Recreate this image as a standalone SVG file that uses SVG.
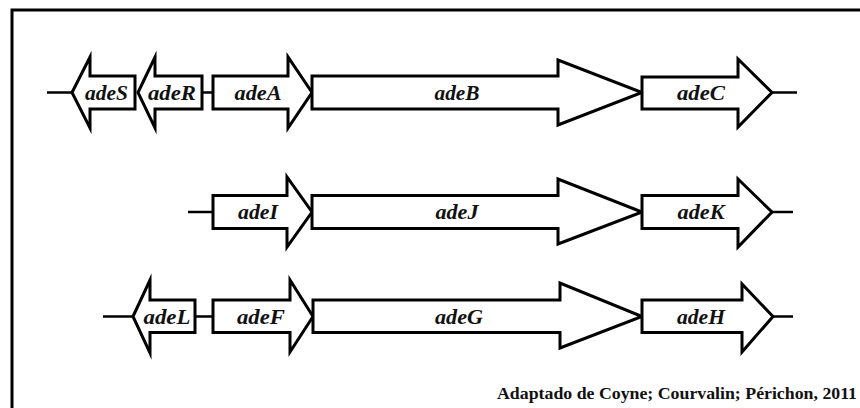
<svg xmlns="http://www.w3.org/2000/svg" width="860" height="408" viewBox="0 0 860 408">
<style>
.g{fill:#fff;stroke:#000;stroke-width:3;stroke-linejoin:miter;stroke-miterlimit:10}
.l{stroke:#000;stroke-width:2.5;fill:none}
.t{font-family:"Liberation Serif","Times New Roman",serif;font-weight:bold;font-style:italic;font-size:20px;text-anchor:middle;fill:#111}
.c{font-family:"Liberation Serif","Times New Roman",serif;font-weight:bold;font-size:17px;fill:#111}
</style>
<rect x="0" y="0" width="860" height="408" fill="#fff"/>
<rect x="12" y="10" width="870" height="420" fill="none" stroke="#000" stroke-width="3"/>
<g id="connectors">
<line class="l" x1="47" y1="92.5" x2="72" y2="92.5"/>
<line class="l" x1="202" y1="92.5" x2="213" y2="92.5"/>
<line class="l" x1="772" y1="92.5" x2="797" y2="92.5"/>
<line class="l" x1="188" y1="212" x2="213" y2="212"/>
<line class="l" x1="772" y1="212" x2="793" y2="212"/>
<line class="l" x1="103" y1="316.5" x2="133" y2="316.5"/>
<line class="l" x1="195" y1="316.5" x2="213" y2="316.5"/>
<line class="l" x1="773" y1="316.5" x2="793" y2="316.5"/>
</g>
<g id="adeS"><polygon class="g" points="72,92.5 90,57 90,76 135,76 135,109 90,109 90,128"/><text class="t" x="106.5" y="99.5" textLength="43" lengthAdjust="spacingAndGlyphs">adeS</text></g>
<g id="adeR"><polygon class="g" points="138,92.5 155,57 155,76 202,76 202,109 155,109 155,128"/><text class="t" x="172" y="99.5" textLength="48" lengthAdjust="spacingAndGlyphs">adeR</text></g>
<g id="adeA"><polygon class="g" points="213,76 288,76 288,57 312,92.5 288,128 288,109 213,109"/><text class="t" x="258" y="99.5" textLength="47" lengthAdjust="spacingAndGlyphs">adeA</text></g>
<g id="adeB"><polygon class="g" points="312,76 558,76 558,60 642,92.5 558,125 558,109 312,109"/><text class="t" x="457" y="99.5" textLength="45" lengthAdjust="spacingAndGlyphs">adeB</text></g>
<g id="adeC"><polygon class="g" points="642,77 738,77 738,59 772,92.5 738,127 738,109 642,109"/><text class="t" x="701" y="99.5" textLength="48" lengthAdjust="spacingAndGlyphs">adeC</text></g>
<g id="adeI"><polygon class="g" points="213,195.5 287,195.5 287,177 312,212 287,247 287,228.5 213,228.5"/><text class="t" x="258" y="219" textLength="40" lengthAdjust="spacingAndGlyphs">adeI</text></g>
<g id="adeJ"><polygon class="g" points="312,195.5 558,195.5 558,179 642,212 558,244 558,228.5 312,228.5"/><text class="t" x="457" y="219" textLength="43" lengthAdjust="spacingAndGlyphs">adeJ</text></g>
<g id="adeK"><polygon class="g" points="642,195.5 738,195.5 738,179 772,212 738,247 738,228.5 642,228.5"/><text class="t" x="701" y="219" textLength="47" lengthAdjust="spacingAndGlyphs">adeK</text></g>
<g id="adeL"><polygon class="g" points="133,316.5 150,280 150,300 195,300 195,332.5 150,332.5 150,353"/><text class="t" x="167" y="323.5" textLength="47" lengthAdjust="spacingAndGlyphs">adeL</text></g>
<g id="adeF"><polygon class="g" points="213,300 290,300 290,280 313,316.5 290,352 290,332.5 213,332.5"/><text class="t" x="261" y="323.5" textLength="48" lengthAdjust="spacingAndGlyphs">adeF</text></g>
<g id="adeG"><polygon class="g" points="313,300 560,300 560,283 642,316.5 560,348 560,332.5 313,332.5"/><text class="t" x="459" y="323.5" textLength="48" lengthAdjust="spacingAndGlyphs">adeG</text></g>
<g id="adeH"><polygon class="g" points="642,300 742,300 742,284 773,316.5 742,352 742,332.5 642,332.5"/><text class="t" x="701" y="323.5" textLength="48" lengthAdjust="spacingAndGlyphs">adeH</text></g>
<text class="c" x="497" y="399" textLength="360" lengthAdjust="spacingAndGlyphs">Adaptado de Coyne; Courvalin; Périchon, 2011</text>
</svg>
